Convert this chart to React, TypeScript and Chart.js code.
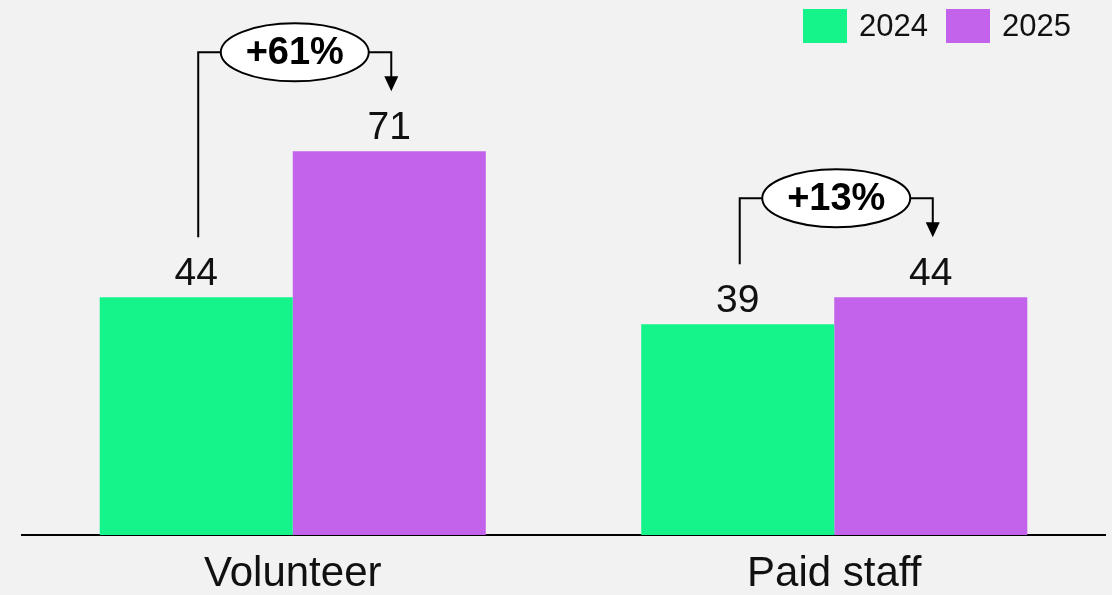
import React, { useEffect, useRef } from "react";
import { Chart, registerables } from "chart.js";

Chart.register(...registerables);

const categories = ["Volunteer", "Paid staff"];
const seriesNames = ["2024", "2025"];
const values2024 = [44, 39];
const values2025 = [71, 44];
const seriesColors = ["#15F38B", "#C363EB"];

const FONT = "'Liberation Sans', Arial, sans-serif";

const labelsPlugin = {
  id: "customDraw",
  afterDatasetsDraw(chart: any) {
    const ctx = chart.ctx as CanvasRenderingContext2D;
    ctx.save();
    // value labels
    chart.data.datasets.forEach((ds: any, di: number) => {
      const meta = chart.getDatasetMeta(di);
      meta.data.forEach((bar: any, i: number) => {
        ctx.fillStyle = "#111";
        ctx.font = `39px ${FONT}`;
        ctx.textAlign = "center";
        ctx.textBaseline = "alphabetic";
        ctx.fillText(String(ds.data[i]), bar.x, bar.y - 12);
      });
    });
    // change annotations
    const m0 = chart.getDatasetMeta(0);
    const m1 = chart.getDatasetMeta(1);
    const d0 = chart.data.datasets[0].data;
    const d1 = chart.data.datasets[1].data;
    categories.forEach((_, i) => {
      const b0 = m0.data[i];
      const b1 = m1.data[i];
      const x0 = b0.x + 2;
      const x1 = b1.x + 2;
      const hy = Math.min(b0.y, b1.y) - 99;
      const cx = (x0 + x1) / 2;
      const rx = 74;
      const ry = 29;
      const tipY = b1.y - 60;
      ctx.strokeStyle = "#000";
      ctx.lineWidth = 2;
      ctx.beginPath();
      ctx.moveTo(x0, b0.y - 60);
      ctx.lineTo(x0, hy);
      ctx.lineTo(cx - rx, hy);
      ctx.moveTo(cx + rx, hy);
      ctx.lineTo(x1, hy);
      ctx.lineTo(x1, tipY - 12);
      ctx.stroke();
      ctx.fillStyle = "#000";
      ctx.beginPath();
      ctx.moveTo(x1 - 7, tipY - 15);
      ctx.lineTo(x1 + 7, tipY - 15);
      ctx.lineTo(x1, tipY);
      ctx.closePath();
      ctx.fill();
      ctx.beginPath();
      ctx.ellipse(cx, hy, rx, ry, 0, 0, Math.PI * 2);
      ctx.fillStyle = "#fff";
      ctx.fill();
      ctx.lineWidth = 2;
      ctx.stroke();
      const pct = Math.round(((d1[i] - d0[i]) / d0[i]) * 100);
      ctx.fillStyle = "#000";
      ctx.font = `bold 38px ${FONT}`;
      ctx.textAlign = "center";
      ctx.textBaseline = "middle";
      ctx.fillText(`${pct >= 0 ? "+" : ""}${pct}%`, cx, hy + 1);
    });
    // legend
    ctx.font = `31px ${FONT}`;
    ctx.textAlign = "left";
    ctx.textBaseline = "middle";
    const starts = [803, 946];
    chart.data.datasets.forEach((ds: any, di: number) => {
      const x = starts[di];
      ctx.fillStyle = ds.backgroundColor;
      ctx.fillRect(x, 9, 44, 34);
      ctx.fillStyle = "#111";
      ctx.fillText(ds.label, x + 56, 27);
    });
    ctx.restore();
  },
};

export default function App() {
  const ref = useRef<HTMLCanvasElement>(null);
  useEffect(() => {
    if (!ref.current) return;
    const chart = new Chart(ref.current, {
      type: "bar",
      data: {
        labels: categories,
        datasets: [
          { label: seriesNames[0], data: values2024, backgroundColor: seriesColors[0] },
          { label: seriesNames[1], data: values2025, backgroundColor: seriesColors[1] },
        ],
      },
      options: {
        animation: false,
        responsive: true,
        maintainAspectRatio: false,
        layout: { padding: { left: 22, right: 7, top: 20, bottom: -18 } },
        datasets: { bar: { categoryPercentage: 0.713, barPercentage: 1 } },
        plugins: { legend: { display: false }, tooltip: { enabled: false } },
        scales: {
          y: { display: false, min: 0, max: 95.3 },
          x: {
            grid: { display: false, drawTicks: false },
            border: { display: true, color: "#000", width: 2 },
            ticks: {
              color: "#111",
              padding: 18,
              font: { family: FONT, size: 42, lineHeight: 1 },
            },
          },
        },
      },
      plugins: [labelsPlugin],
    });
    return () => chart.destroy();
  }, []);
  return (
    <div style={{ position: "fixed", left: 0, top: 0, width: 1112, height: 595, background: "#F2F2F2" }}>
      <canvas ref={ref} />
    </div>
  );
}
